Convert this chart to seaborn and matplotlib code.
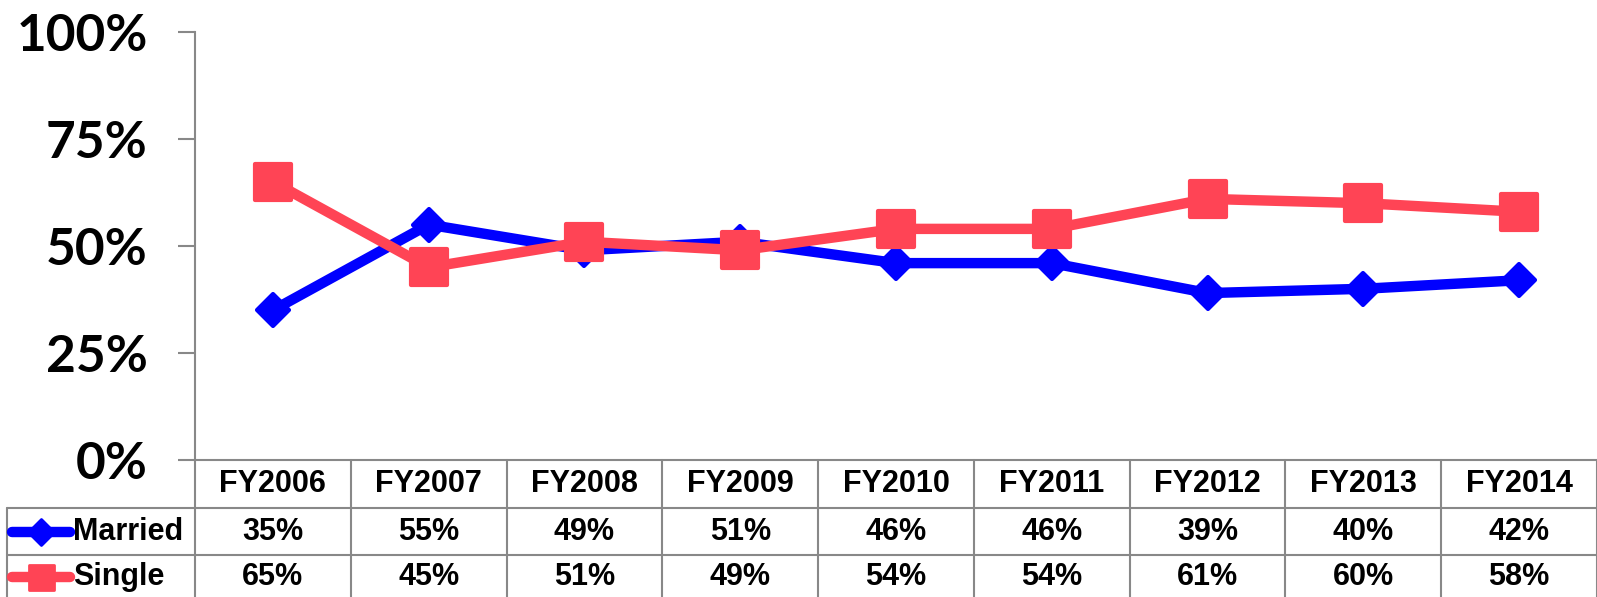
import matplotlib
matplotlib.use("Agg")
import matplotlib.pyplot as plt
import matplotlib.transforms as mtransforms
from matplotlib.lines import Line2D
from matplotlib.markers import MarkerStyle
import seaborn as sns
import pandas as pd

# ---- data ----
years = ["FY2006", "FY2007", "FY2008", "FY2009", "FY2010",
         "FY2011", "FY2012", "FY2013", "FY2014"]
married = [35, 55, 49, 51, 46, 46, 39, 40, 42]
single = [65, 45, 51, 49, 54, 54, 61, 60, 58]
series_names = ["Married", "Single"]
y_ticks = [0, 25, 50, 75, 100]

colors = {"Married": "#0000FF", "Single": "#FF4455"}
markers = {"Married": "D", "Single": "s"}
grid_col = "#888888"

df = pd.DataFrame({
    "year": years * 2,
    "value": married + single,
    "series": ["Married"] * len(years) + ["Single"] * len(years),
})

sns.set_style("white")
plt.rcParams["font.family"] = ["Liberation Sans", "DejaVu Sans"]
plt.rcParams["text.color"] = "black"

W, H = 1597, 597
fig = plt.figure(figsize=(W / 100, H / 100), dpi=100)
ax_l, ax_r, ax_top, ax_bot = 195, 1597, 32, 460
ax = fig.add_axes([ax_l / W, (H - ax_bot) / H, (ax_r - ax_l) / W, (ax_bot - ax_top) / H])

sns.lineplot(data=df, x="year", y="value", hue="series", style="series",
             markers=markers, dashes=False, palette=colors, hue_order=series_names,
             style_order=series_names, linewidth=7.5, sort=False, legend=False, ax=ax)

for ln, name in zip(ax.lines, series_names):
    ln.set_solid_joinstyle("round")
    ln.set_marker(MarkerStyle(markers[name], joinstyle="round"))
    ln.set_markeredgewidth(3)
    ln.set_markeredgecolor(colors[name])
    ln.set_markerfacecolor(colors[name])
    if name == "Married":
        ln.set_markersize(16)
        ln.set_zorder(3)
    else:
        ln.set_markersize(26)
        ln.set_zorder(4)

n = len(years)
ax.set_xlim(-0.5, n - 0.5)
ax.set_ylim(0, 100)
ax.set_yticks(y_ticks)
ax.set_yticklabels([f"{v}%" for v in y_ticks], fontfamily="Lato",
                   fontweight="bold", fontsize=37, color="black")
ax.set_xticks([])
ax.set_xlabel("")
ax.set_ylabel("")
ax.tick_params(axis="y", length=12, width=1.5, color=grid_col, pad=22, left=True)
for s in ["top", "right"]:
    ax.spines[s].set_visible(False)
for s in ["left", "bottom"]:
    ax.spines[s].set_color(grid_col)
    ax.spines[s].set_linewidth(1.5)

# ---- data table below the axes ----
trans = mtransforms.blended_transform_factory(ax.transData, ax.transAxes)
ah = ax_bot - ax_top
px_per_col = (ax_r - ax_l) / n


def xd(px):
    return (px - ax_l) / px_per_col - 0.5


def ya(px_below):
    return -px_below / ah


row_lines = [48, 95, 140]
left_edge = xd(7)
lkw = dict(color=grid_col, lw=1.5, transform=trans, clip_on=False)
for r in row_lines:
    ax.add_line(Line2D([left_edge, n - 0.5], [ya(r), ya(r)], **lkw))
ax.add_line(Line2D([left_edge, left_edge], [ya(48), ya(140)], **lkw))
for k in range(n + 1):
    xx = k - 0.5 if k < n else n - 0.5 - 0.003
    ax.add_line(Line2D([xx, xx], [0, ya(140)], **lkw))

tkw = dict(transform=trans, ha="center", va="center", fontsize=22,
           fontweight="bold", clip_on=False, color="black")
for i, yr in enumerate(years):
    ax.text(i, ya(24), yr, **tkw)
    ax.text(i, ya(72), f"{married[i]}%", **tkw)
    ax.text(i, ya(117), f"{single[i]}%", **tkw)

# row labels with legend keys
for name, yc in zip(series_names, [72, 117]):
    key = Line2D([xd(12), xd(70)], [ya(yc), ya(yc)], color=colors[name], lw=7.5,
                 solid_capstyle="round", transform=trans, clip_on=False)
    ax.add_line(key)
    mk = Line2D([xd(41)], [ya(yc)], marker=MarkerStyle(markers[name], joinstyle="round"),
                color=colors[name],
                markersize=13 if name == "Married" else 18, markeredgewidth=2,
                transform=trans, clip_on=False, linestyle="none")
    ax.add_line(mk)
    ax.text(xd(73), ya(yc), name, transform=trans, ha="left", va="center",
            fontsize=22, fontweight="bold", clip_on=False, color="black")

fig.savefig("out.png", dpi=100)
